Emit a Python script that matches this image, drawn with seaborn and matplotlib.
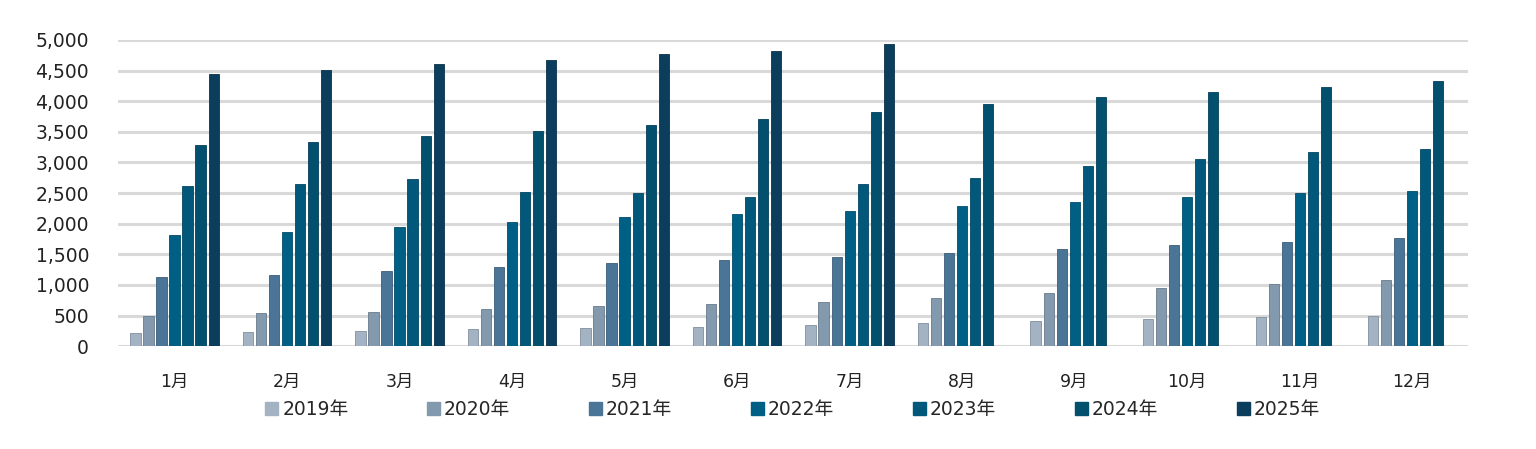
import matplotlib
matplotlib.use("Agg")
import matplotlib.pyplot as plt
import matplotlib.colors as mcolors
from matplotlib.patches import Patch
import seaborn as sns
import pandas as pd

months = ["1月", "2月", "3月", "4月", "5月", "6月", "7月", "8月", "9月", "10月", "11月", "12月"]
years = ["2019年", "2020年", "2021年", "2022年", "2023年", "2024年", "2025年"]

v2019 = [215, 235, 250, 273, 301, 317, 344, 383, 404, 436, 475, 485]
v2020 = [500, 536, 563, 601, 650, 689, 727, 792, 863, 949, 1020, 1074]
v2021 = [1130, 1158, 1230, 1290, 1366, 1415, 1464, 1519, 1579, 1647, 1707, 1762]
v2022 = [1820, 1858, 1951, 2027, 2104, 2153, 2202, 2290, 2355, 2433, 2498, 2536]
v2023 = [2620, 2656, 2727, 2514, 2503, 2443, 2656, 2743, 2945, 3060, 3174, 3223]
v2024 = [3280, 3339, 3426, 3519, 3617, 3705, 3831, 3956, 4066, 4145, 4233, 4331]
v2025 = [4440, 4514, 4612, 4667, 4765, 4814, 4929]  # Jan-Jul only

colors = ["#a3b3c3", "#8399ad", "#4a7596", "#005f85", "#02587b", "#024f6e", "#0b3d5c"]

series = [v2019, v2020, v2021, v2022, v2023, v2024, v2025]
rows = []
for year, vals in zip(years, series):
    for month, v in zip(months, vals):
        rows.append({"month": month, "year": year, "value": v})
df = pd.DataFrame(rows)

sns.set_style("white")
# Verdana-like digits, CJK glyphs from Noto
plt.rcParams["font.family"] = ["DejaVu Sans", "Noto Sans CJK JP"]

fig = plt.figure(figsize=(15.36, 4.49), dpi=100)
ax = fig.add_axes([0.077, 0.229, 0.879, 0.682])

sns.barplot(data=df, x="month", y="value", hue="year", order=months,
            hue_order=years, palette=colors, saturation=1, width=0.81,
            gap=0.22, legend=False, ax=ax)

# thin darker outline on each bar
for p in ax.patches:
    fc = mcolors.to_rgb(p.get_facecolor())
    p.set_edgecolor(tuple(c * 0.8 for c in fc))
    p.set_linewidth(0.6)

ax.set_ylim(0, 5000)
ax.set_xlim(-0.5, 11.5)
ax.set_yticks(range(0, 5001, 500))
ax.set_yticklabels([f"{t:,}" for t in range(0, 5001, 500)])
ax.yaxis.grid(True, color="#d9d9d9", linewidth=2.2)
ax.set_axisbelow(True)
for s in ax.spines.values():
    s.set_visible(False)
ax.tick_params(axis="y", length=0, pad=21, labelsize=13.5, labelcolor="#222222")
ax.tick_params(axis="x", length=0, pad=19, labelsize=12.5, labelcolor="#222222")
ax.set_xlabel("")
ax.set_ylabel("")

handles = [Patch(facecolor=c, edgecolor=c) for c in colors]
fig.legend(handles, years, loc="center", bbox_to_anchor=(0.516, 0.088),
           ncol=7, frameon=False, fontsize=13.5, handlelength=0.7,
           handleheight=0.7, handletextpad=0.2, columnspacing=4.2)

fig.savefig("out.png", dpi=100)
